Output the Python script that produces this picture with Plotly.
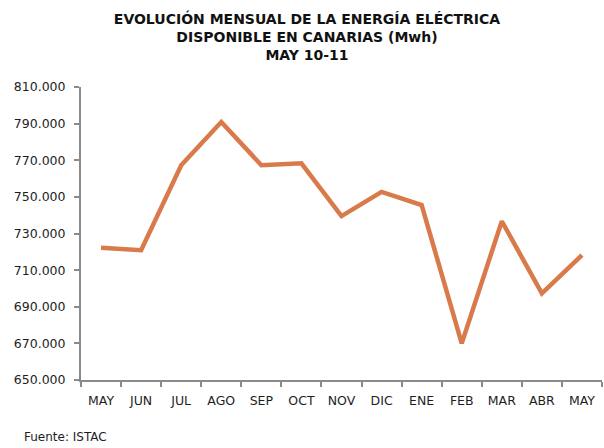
import plotly.graph_objects as go

months = ["MAY", "JUN", "JUL", "AGO", "SEP", "OCT", "NOV", "DIC", "ENE", "FEB", "MAR", "ABR", "MAY"]
energia_mwh = [722200, 720900, 767300, 790900, 767300, 768300, 739500, 752700, 745500, 670000, 736700, 697300, 718200]
y_ticks = [650000, 670000, 690000, 710000, 730000, 750000, 770000, 790000, 810000]

n = len(months)
idx = list(range(n))

W, H = 604, 448
L, R, T, B = 81, 2, 86.7, 68

fig = go.Figure()
fig.add_trace(go.Scatter(
    x=idx, y=energia_mwh,
    mode="lines", line=dict(color="#D97A4A", width=4.5),
    hoverinfo="skip", showlegend=False,
))

axis_col = "#8A8A8A"
font_fam = "DejaVu Sans"
txt_col = "#1e1e1e"

fig.update_layout(
    width=W, height=H,
    margin=dict(l=L, r=R, t=T, b=B, autoexpand=False),
    paper_bgcolor="white", plot_bgcolor="white",
    separators=",.",
    font=dict(family=font_fam, color=txt_col, size=12),
    title=dict(
        text="EVOLUCIÓN MENSUAL DE LA ENERGÍA ELÉCTRICA<br>DISPONIBLE EN CANARIAS (Mwh)<br>MAY 10-11",
        font=dict(family=font_fam, size=14, color="#111111", weight="bold"),
        x=307 / W, xanchor="center", xref="container",
        y=1 - 23.5 / H, yanchor="top", yref="container",
        automargin=False,
    ),
    xaxis=dict(
        tickmode="array", tickvals=idx, ticktext=months,
        range=[-0.5, n - 0.5], showgrid=False, zeroline=False,
        showline=True, linecolor=axis_col, linewidth=2,
        ticks="", automargin=False,
        minor=dict(tick0=-0.5, dtick=1, ticks="outside", ticklen=5,
                   tickcolor=axis_col, tickwidth=2, showgrid=False),
        ticklabelstandoff=8,
        tickfont=dict(size=12.5, color=txt_col),
    ),
    yaxis=dict(
        range=[650000, 810000], tickmode="array", tickvals=y_ticks, tickformat=",d",
        showgrid=False, zeroline=False, automargin=False,
        showline=True, linecolor=axis_col, linewidth=2,
        ticks="outside", ticklen=5, tickcolor=axis_col, tickwidth=2,
        ticklabelstandoff=6,
        tickfont=dict(size=12.5, color=txt_col),
    ),
    annotations=[dict(
        text="Fuente: ISTAC", xref="paper", yref="paper",
        x=(22 - L) / (W - L - R), y=-(437 - (H - B)) / (H - T - B),
        xanchor="left", yanchor="middle",
        showarrow=False, font=dict(size=12, color=txt_col, family=font_fam),
    )],
)

fig.write_html(
    "out.html",
    config={"displayModeBar": False, "staticPlot": True},
    post_script="document.body.style.margin='0';document.body.style.overflow='hidden';",
)
